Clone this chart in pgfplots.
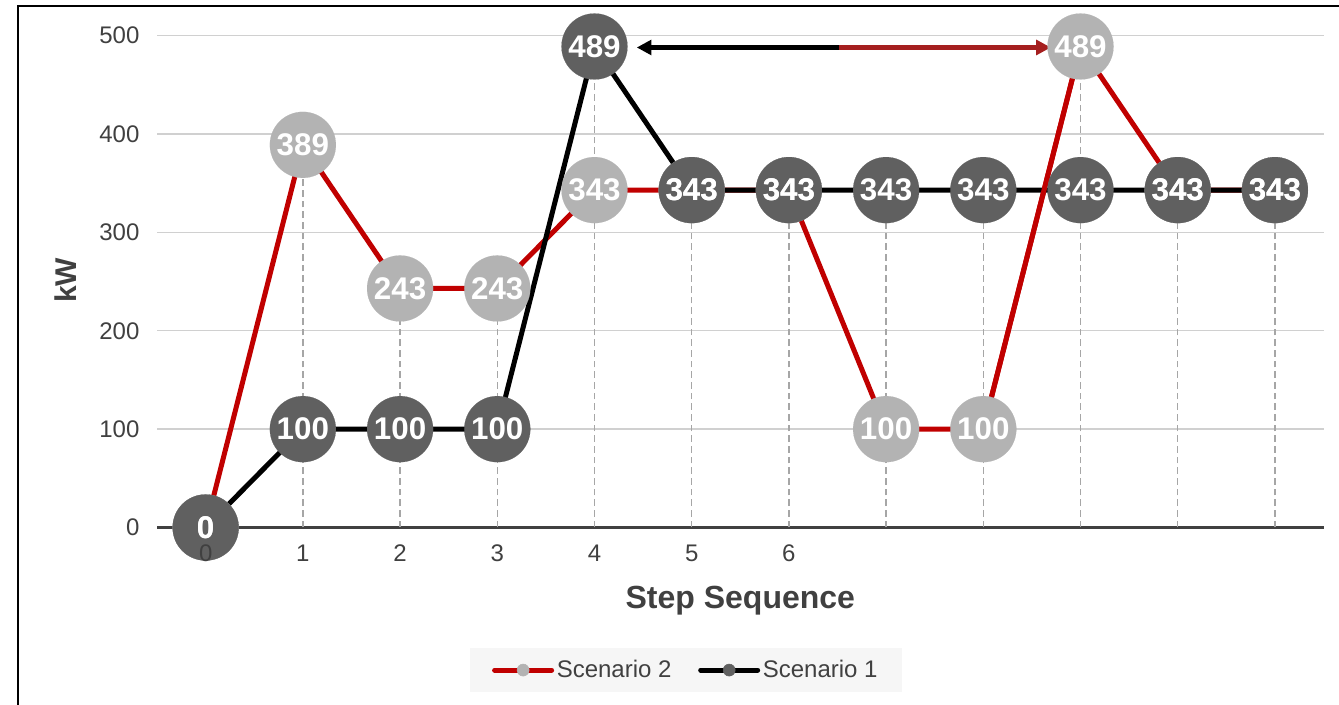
\documentclass[border=0pt]{standalone}
\usepackage{fontspec}
\setmainfont{Liberation Sans}
\usepackage{pgfplots}
\pgfplotsset{compat=1.18}
\usepackage{pgfplotstable}
\usetikzlibrary{arrows.meta}

\definecolor{sctwo}{HTML}{C00000}
\definecolor{sctwomark}{HTML}{B3B3B3}
\definecolor{sconemark}{HTML}{606060}
\definecolor{axisgray}{HTML}{404040}
\definecolor{gridgray}{HTML}{D0D0D0}
\definecolor{dropgray}{HTML}{A6A6A6}
\definecolor{arrowred}{HTML}{A51F1F}
\definecolor{legendbg}{HTML}{F6F6F6}

% load in kW at each step of the sequence
\pgfplotstableread{
step kw
0  0
1  100
2  100
3  100
4  489
5  343
6  343
7  343
8  343
9  343
10 343
11 343
}\scenarioone

\pgfplotstableread{
step kw
0  0
1  389
2  243
3  243
4  343
5  343
6  343
7  100
8  100
9  489
10 343
11 343
}\scenariotwo

% highest load reached at each step (top of the drop lines)
\pgfplotstableread{
step kw
1  389
2  243
3  243
4  489
5  343
6  343
7  343
8  343
9  489
10 343
11 343
}\droptops

\begin{document}
\begin{tikzpicture}
\draw[line width=1.5pt] (-104.1pt,-140pt) -- (-104.1pt,391.1pt) -- (900pt,391.1pt);
\begin{axis}[
  set layers=standard,
  at={(0pt,0pt)}, anchor=south west,
  scale only axis, width=874.8pt, height=368.85pt,
  xmin=-0.5, xmax=11.5, ymin=0, ymax=500,
  clip=false,
  axis line style={draw=none},
  major tick length=0pt,
  xtick={0,...,6}, ytick={0,100,...,500},
  ymajorgrids, grid style={gridgray, line width=1pt},
  extra y ticks={0}, extra y tick labels={},
  extra y tick style={grid style={axisgray, line width=2.25pt}},
  tick label style={font=\fontsize{18}{21}\selectfont, text=axisgray},
  /pgf/number format/assume math mode=true,
  yticklabel style={xshift=-9.75pt},
  xticklabel style={yshift=-9.4pt, /pgfplots/on layer=axis descriptions},
  legend columns=2,
  legend style={at={(axis description cs:0.4536,-0.2899)}, anchor=center,
    draw=none, fill=legendbg, font=\fontsize{18}{21}\selectfont, text=axisgray,
    inner xsep=16.5pt, inner ysep=6.5pt,
    nodes={inner xsep=2pt, inner ysep=3pt},
    /tikz/every even column/.append style={column sep=18pt}},
]
\addlegendimage{legend image code/.code={
  \draw[sctwo, line width=3.75pt, line cap=round] (0pt,0pt) -- (42.75pt,0pt);
  \fill[sctwomark] (21.4pt,0pt) circle (4.5pt);}}
\addlegendentry{Scenario 2}
\addlegendimage{legend image code/.code={
  \draw[black, line width=3.75pt, line cap=round] (0pt,0pt) -- (42.75pt,0pt);
  \fill[sconemark] (21.4pt,0pt) circle (4.5pt);}}
\addlegendentry{Scenario 1}

% connecting lines
\addplot[sctwo, line width=3.75pt, mark=none, forget plot] table[x=step, y=kw] \scenariotwo;
\addplot[black, line width=3.75pt, mark=none, forget plot] table[x=step, y=kw] \scenarioone;
\addplot[sctwo, line width=3.75pt, mark=none, forget plot, restrict x to domain=8:9] table[x=step, y=kw] \scenariotwo;

% markers
\addplot[only marks, mark=*, mark size=24.75pt,
  mark options={draw=sctwomark, fill=sctwomark, line width=0.1pt}, forget plot] table[x=step, y=kw] \scenariotwo;
\addplot[only marks, mark=*, mark size=24.75pt,
  mark options={draw=sconemark, fill=sconemark, line width=0.1pt}, forget plot] table[x=step, y=kw] \scenarioone;

% drop lines
\addplot[ycomb, dropgray, line width=1.1pt, dash pattern=on 5pt off 3pt, mark=none, forget plot] table[x=step, y=kw] \droptops;

% value labels
\addplot[draw=none, mark=none, forget plot, nodes near coords,
  every node near coord/.append style={anchor=center, inner sep=0pt, text=white,
    font=\bfseries\fontsize{23.5}{24}\selectfont}] table[x=step, y=kw] \scenariotwo;
\addplot[draw=none, mark=none, forget plot, nodes near coords,
  every node near coord/.append style={anchor=center, inner sep=0pt, text=white,
    font=\bfseries\fontsize{23.5}{24}\selectfont}] table[x=step, y=kw] \scenarioone;

% shift of the 489 kW peak between the scenarios
\draw[black, line width=3.5pt, -{Triangle[length=11pt, width=11pt]}] (axis cs:6.52,488) -- (axis cs:4.435,488);
\draw[arrowred, line width=3.5pt, -{Triangle[length=11pt, width=11pt]}] (axis cs:6.52,488) -- (axis cs:8.695,488);
\end{axis}
\node[anchor=base, font=\bfseries\fontsize{24}{28}\selectfont, text=axisgray] at (437.4pt,-60.4pt) {Step Sequence};
\node[rotate=90, font=\bfseries\fontsize{22.5}{26}\selectfont, text=axisgray] at (-68.25pt,185.25pt) {kW};
\pgfresetboundingbox
\useasboundingbox (-117.8pt,-132.4pt) rectangle (886.4pt,395.6pt);
\end{tikzpicture}
\end{document}
